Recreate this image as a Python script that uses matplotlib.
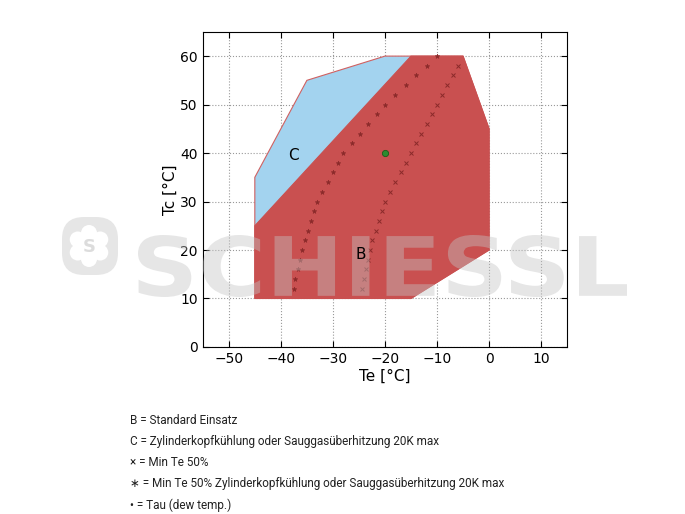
import matplotlib.pyplot as plt
import numpy as np
from matplotlib.textpath import TextPath
from matplotlib.font_manager import FontProperties
from matplotlib.patches import PathPatch, FancyBboxPatch, Circle
from matplotlib.transforms import Affine2D

# Einsatzgrenzen (Te, Tc)
c_te = [-45, -45, -35, -20, -5, 0, 0, -15]
c_tc = [10, 35, 55, 60, 60, 45, 20, 10]
b_te = [-45, -45, -15, -5, 0, 0, -15]
b_tc = [10, 25, 60, 60, 45, 20, 10]

# Min Te 50% Zylinderkopfkühlung (*)
star_te = [-37.5, -37.2, -36.8, -36.4, -36.0, -35.4, -34.8, -34.2, -33.6, -33.0,
           -32.0, -31.0, -30.0, -29.0, -28.0, -26.4, -24.8, -23.2, -21.6, -20.0,
           -18.0, -16.0, -14.0, -12.0, -10.0]
star_tc = [12, 14, 16, 18, 20, 22, 24, 26, 28, 30, 32, 34, 36, 38, 40, 42, 44,
           46, 48, 50, 52, 54, 56, 58, 60]

# Min Te 50% (x)
x_te = [-24.4, -24.0, -23.6, -23.2, -22.8, -22.4, -21.7, -21.2, -20.6, -20.0,
        -19.0, -18.0, -17.0, -16.0, -15.0, -14.0, -13.0, -12.0, -11.0, -10.0,
        -9.0, -8.0, -7.0, -6.0]
x_tc = [12, 14, 16, 18, 20, 22, 24, 26, 28, 30, 32, 34, 36, 38, 40, 42, 44,
        46, 48, 50, 52, 54, 56, 58]

# Tau
dew_te = [-20]
dew_tc = [40]

legend_lines = [
    "B = Standard Einsatz",
    "C = Zylinderkopfkühlung oder Sauggasüberhitzung 20K max",
    "× = Min Te 50%",
    "∗ = Min Te 50% Zylinderkopfkühlung oder Sauggasüberhitzung 20K max",
    "• = Tau (dew temp.)",
]

W, H = 685, 514
fig = plt.figure(figsize=(W / 100, H / 100), dpi=100)
ax = fig.add_axes([0.296, 0.325, 0.532, 0.613])

ax.fill(c_te, c_tc, facecolor="#a3d3ef", edgecolor="#d06060", linewidth=0.8, zorder=2)
ax.fill(b_te, b_tc, facecolor="#c95050", edgecolor="#c95050", linewidth=0.8, zorder=3)

ax.plot(star_te, star_tc, linestyle="none", marker="*", markersize=3.5,
        color="#8a2a2a", markeredgewidth=0.4, zorder=4)
ax.plot(x_te, x_tc, linestyle="none", marker="x", markersize=3.5,
        color="#8a2a2a", markeredgewidth=0.7, zorder=4)
ax.plot(dew_te, dew_tc, linestyle="none", marker="o", markersize=4.5,
        color="#2e8b2e", markeredgecolor="#1a5a1a", markeredgewidth=0.6, zorder=5)

ax.set_xlim(-55, 15)
ax.set_ylim(0, 65)
ax.set_xticks(np.arange(-50, 11, 10))
ax.set_yticks(np.arange(0, 61, 10))
ax.tick_params(direction="in", length=4, labelsize=10, top=True, right=True)
ax.grid(True, linestyle=":", color="#999999", linewidth=0.8, zorder=1)
ax.set_axisbelow(True)
ax.set_xlabel("Te [°C]", fontsize=11, labelpad=2)
ax.set_ylabel("Tc [°C]", fontsize=11, labelpad=2)

# Wasserzeichen (Pixelkoordinaten, y von oben)
px = Affine2D().scale(1 / W, -1 / H).translate(0, 1) + fig.transFigure
wm_color = "#c4c4c4"
wm_alpha = 0.42

tp = TextPath((0, 0), "SCHIESSL", size=100,
              prop=FontProperties(family="DejaVu Sans", weight="bold"))
bb = tp.get_extents()
x0, x1, y0, y1 = 138, 627, 235, 297
sx = (x1 - x0) / bb.width
sy = (y1 - y0) / bb.height
wm_tf = Affine2D().translate(-bb.x0, -bb.y0).scale(sx, -sy).translate(x0, y1) + px
fig.add_artist(PathPatch(tp, facecolor=wm_color, edgecolor="none",
                         alpha=wm_alpha, transform=wm_tf, zorder=10))

# Logo
fig.add_artist(FancyBboxPatch((62, 217), 56, 58, boxstyle="round,pad=0,rounding_size=22",
                              facecolor=wm_color, edgecolor="none", alpha=wm_alpha,
                              transform=px, zorder=10))
for ang in np.arange(0, 360, 60):
    cx = 89 + 13 * np.cos(np.radians(ang + 90))
    cy = 246 + 13 * np.sin(np.radians(ang + 90))
    fig.add_artist(Circle((cx, cy), 8, facecolor="white", edgecolor="none",
                          transform=px, zorder=11))
fig.add_artist(Circle((89, 246), 13, facecolor="white", edgecolor="none",
                      transform=px, zorder=11))
fig.text(89 / W, 1 - 247 / H, "S", fontsize=13, fontweight="bold", color="#dcdcdc",
         ha="center", va="center", zorder=12)

# Bereichsbeschriftung über dem Wasserzeichen
fig.text(-37.5, 39.5, "C", fontsize=11, ha="center", va="center",
         transform=ax.transData, zorder=13)
fig.text(-24.6, 19, "B", fontsize=11, ha="center", va="center",
         transform=ax.transData, zorder=13)

for i, line in enumerate(legend_lines):
    fig.text(130 / W, 1 - (421 + 21 * i) / H, line, fontsize=8.5,
             family=["Roboto", "DejaVu Sans"], va="center", ha="left",
             color="#222222")

fig.savefig("out.png", dpi=100)
